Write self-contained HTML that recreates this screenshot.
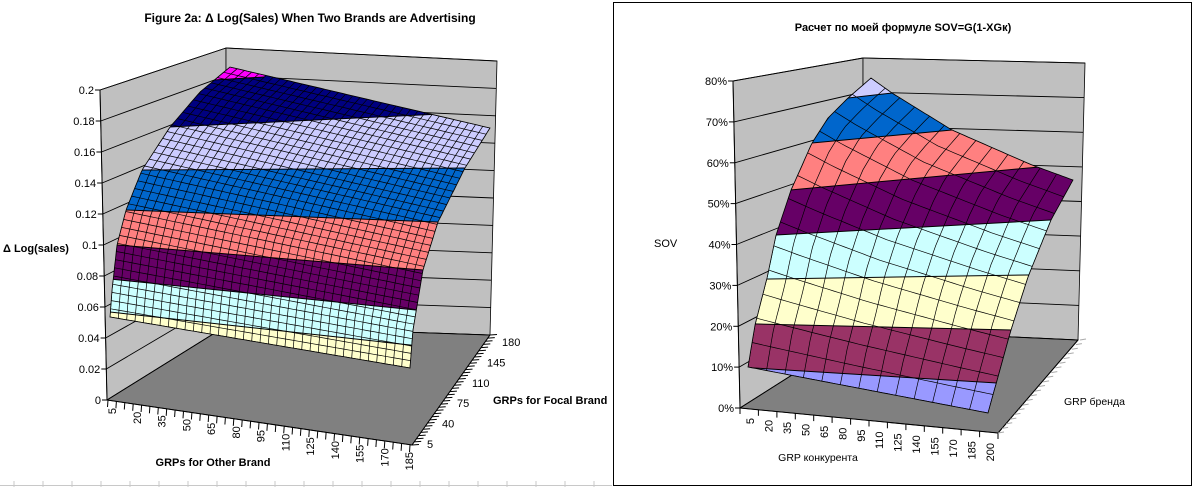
<!DOCTYPE html>
<html><head><meta charset="utf-8">
<style>
html,body{margin:0;padding:0;background:#fff;width:1194px;height:488px;overflow:hidden;}
svg{display:block;font-family:"Liberation Sans","DejaVu Sans",sans-serif;}
</style></head>
<body>
<svg id="s" width="1194" height="488" viewBox="0 0 1194 488" xmlns="http://www.w3.org/2000/svg">
<rect width="1194" height="488" fill="#fff"/>
<g id="g"></g>
<text x="310" y="22" font-size="12" font-weight="bold" text-anchor="middle">Figure 2a: Δ Log(Sales) When Two Brands are Advertising</text>
<text x="3" y="252" font-size="11" font-weight="bold">Δ Log(sales)</text>
<text x="213" y="466" font-size="11" font-weight="bold" text-anchor="middle">GRPs for Other Brand</text>
<text x="493" y="404" font-size="11" font-weight="bold">GRPs for Focal Brand</text>
<rect x="613.5" y="2.5" width="578" height="483" fill="none" stroke="#000" stroke-width="1"/>
<text x="903" y="31" font-size="11" font-weight="bold" text-anchor="middle">Расчет по моей формуле SOV=G(1-XGк)</text>
<text x="654" y="247" font-size="11">SOV</text>
<text x="818" y="461" font-size="10.5" text-anchor="middle">GRP конкурента</text>
<text x="1064" y="405" font-size="10.5">GRP бренда</text>
</svg>
<script>
var G=document.getElementById('g');
var out=[];
function poly(pts,fill,stroke,sw,extra){out.push('<polygon points="'+pts.map(function(p){return p[0].toFixed(1)+','+p[1].toFixed(1)}).join(' ')+'" fill="'+fill+'" stroke="'+(stroke||'none')+'" stroke-width="'+(sw||1)+'" '+(extra||'')+'/>');}
function line(a,b,st,sw,extra){out.push('<line x1="'+a[0].toFixed(1)+'" y1="'+a[1].toFixed(1)+'" x2="'+b[0].toFixed(1)+'" y2="'+b[1].toFixed(1)+'" stroke="'+(st||'#000')+'" stroke-width="'+(sw||1)+'" '+(extra||'')+'/>');}
function text(x,y,t,sz,anc,rot){out.push('<text x="'+x.toFixed(1)+'" y="'+y.toFixed(1)+'" font-size="'+sz+'" text-anchor="'+(anc||'start')+'"'+(rot?' transform="rotate(-90 '+x.toFixed(1)+' '+y.toFixed(1)+')"':'')+'>'+t+'</text>');}
function lerp(a,b,t){return [a[0]+(b[0]-a[0])*t,a[1]+(b[1]-a[1])*t];}
function pl(pts){
 var c=[0];for(var i=1;i<pts.length;i++){c.push(c[i-1]+Math.hypot(pts[i][0]-pts[i-1][0],pts[i][1]-pts[i-1][1]));}
 var L=c[c.length-1];
 return function(t){var d=t*L;for(var i=1;i<pts.length;i++){if(d<=c[i]||i==pts.length-1){var s=(d-c[i-1])/(c[i]-c[i-1]);return lerp(pts[i-1],pts[i],Math.max(0,Math.min(1,s)));}}};
}
function coons(F,B,Lf,R){
 var FL=F(0),FR=F(1),BL=B(0),BR=B(1);
 return function(u,v){var f=F(u),b=B(u),l=Lf(v),r=R(v);
  return [0,1].map(function(k){return (1-v)*f[k]+v*b[k]+(1-u)*l[k]+u*r[k]-((1-u)*(1-v)*FL[k]+u*(1-v)*FR[k]+(1-u)*v*BL[k]+u*v*BR[k]);});};
}
function surface(id,P,nu,nv,bounds,colors,extraFn,xr){
 var N=60,o=[];
 for(var i=0;i<=N;i++)o.push(P(i/N,0));
 for(var i=0;i<=N;i++)o.push(P(1,i/N));
 for(var i=N;i>=0;i--)o.push(P(i/N,1));
 for(var i=N;i>=0;i--)o.push(P(0,i/N));
 out.push('<clipPath id="'+id+'"><polygon points="'+o.map(function(p){return p[0].toFixed(1)+','+p[1].toFixed(1)}).join(' ')+'"/></clipPath>');
 out.push('<g clip-path="url(#'+id+')">');
 function yl(b,x){return b[0][1]+(b[1][1]-b[0][1])*(x-b[0][0])/(b[1][0]-b[0][0]);}
 function cl(y){return Math.max(0,Math.min(488,y));}
 var x0=xr[0],x1=xr[1];
 for(var k=0;k<colors.length;k++){
  var lo=k==0?null:bounds[k-1],hi=k<bounds.length?bounds[k]:null;
  var pts=[[x0,lo?cl(yl(lo,x0)):488],[x1,lo?cl(yl(lo,x1)):488],[x1,hi?cl(yl(hi,x1)):0],[x0,hi?cl(yl(hi,x0)):0]];
  poly(pts,colors[k]);
 }
 if(extraFn)extraFn();
 for(var i=0;i<=nu;i++){var s=[];for(var j=0;j<=40;j++)s.push(P(i/nu,j/40));out.push('<polyline points="'+s.map(function(p){return p[0].toFixed(1)+','+p[1].toFixed(1)}).join(' ')+'" fill="none" stroke="#000" stroke-width="0.7"/>');}
 for(var j=0;j<=nv;j++){var s=[];for(var i=0;i<=40;i++)s.push(P(i/40,j/nv));out.push('<polyline points="'+s.map(function(p){return p[0].toFixed(1)+','+p[1].toFixed(1)}).join(' ')+'" fill="none" stroke="#000" stroke-width="0.7"/>');}
 bounds.forEach(function(b){line([x0,yl(b,x0)],[x1,yl(b,x1)],'#000',1);});
 out.push('</g>');
 out.push('<polygon points="'+o.map(function(p){return p[0].toFixed(1)+','+p[1].toFixed(1)}).join(' ')+'" fill="none" stroke="#000" stroke-width="0.8"/>');
}

line([0,485.5],[612,485.5],'#c8c8c8',1);
for(var x=14;x<612;x+=29)line([x,481],[x,487],'#c8c8c8',1);

var lw=[[100,90],[226,48],[226,326],[107,400]];
var rw=[[226,48],[497,61],[490,335],[226,326]];
var fl=[[107,400],[412,445],[490,335],[226,326]];
poly(lw,'#c0c0c0','#000',0.8);poly(rw,'#c0c0c0','#000',0.8);poly(fl,'#808080','#000',0.8);
for(var i=0;i<=10;i++){var t=i/10;
 var a=lerp([100,90],[107,400],t),b=lerp([226,48],[226,326],t),c=lerp([497,61],[490,335],t);
 line(a,b,'#000',0.9);line(b,c,'#000',0.9);
 line([a[0]-5,a[1]],a,'#000',1);
 text(a[0]-6,a[1]+4,['0.2','0.18','0.16','0.14','0.12','0.1','0.08','0.06','0.04','0.02','0'][i],11,'end');
}
var PL=coons(pl([[110,317],[410,368]]),pl([[230,67],[490,128]]),
 pl([[110,317],[112,290],[117,245],[126,210],[142,170],[170,127],[200,92],[230,67]]),
 pl([[410,368],[413,330],[423,270],[438,222],[465,168],[490,128]]));
surface('c1',PL,36,35,
 [[[110,312],[410,345]],[[110,279],[415,310]],[[117,245],[423,270]],[[126,210],[438,222]],[[142,170],[465,168]],[[170,127],[419,115]]],
 ['#ffffcc','#ccffff','#660066','#ff8080','#0066cc','#ccccff','#000080'],
 function(){poly([[200,40],[280,40],[264,77],[214,80]],'#ff00ff');line([214,80],[264,77],'#000',1);},[100,500]);
line([100,90],[107,400],'#000',1);
line([107,400],[412,445],'#000',1);
for(var i=0;i<=36;i++){var p=lerp([108,400],[410,445],i/36);line(p,[p[0]-0.5,p[1]+7],'#000',1);}
for(var i=0;i<13;i++){var p=lerp([112,401],[409,445],i/12);text(p[0]+4,p[1]+7,String(5+15*i),11,'end',true);}
line([412,445],[490,335],'#000',1);
for(var i=0;i<=35;i++){var p=lerp([412,445],[490,335],i/35);line(p,[p[0]+7,p[1]-0.5],'#000',1);}
var fv=['5','40','75','110','145','180'];
for(var i=0;i<6;i++){var p=lerp([422,444],[497,342],i/5);text(p[0]+5,p[1]+4,fv[i],11,'start');}

var lw2=[[733,81],[863,58],[863,330],[740,408]];
var rw2=[[863,58],[1085,63],[1078,340],[863,330]];
var fl2=[[740,408],[998,433],[1078,340],[863,330]];
poly(lw2,'#c0c0c0','#000',0.8);poly(rw2,'#c0c0c0','#000',0.8);poly(fl2,'#808080','#000',0.8);
var pct=['80%','70%','60%','50%','40%','30%','20%','10%','0%'];
for(var i=0;i<=8;i++){var t=i/8;
 var a=lerp([733,81],[740,408],t),b=lerp([863,58],[863,330],t),c=lerp([1085,63],[1078,340],t);
 line(a,b,'#000',0.9);line(b,c,'#000',0.9);
 line([a[0]-5,a[1]],a,'#000',1);
 text(a[0]-6,a[1]+4,pct[i],11,'end');
}
var PR=coons(pl([[748,367],[988,413]]),pl([[871,78],[892,93],[952,130],[1032,165],[1073,180]]),
 pl([[748,367],[755,325],[767,278],[776,235],[791,190],[812,143],[828,118],[848,98],[871,78]]),
 pl([[988,413],[1011,330],[1028,277],[1051,220],[1073,180]]));
surface('c2',PR,13,13,
 [[[755,368],[996,383]],[[755,324],[1011,330]],[[767,279],[1028,275]],[[776,235],[1051,220]],[[791,190],[1039,167]],[[812,143],[952,130]],[[848,98],[892,93]]],
 ['#9999ff','#993366','#ffffcc','#ccffff','#660066','#ff8080','#0066cc','#ccccff'],null,[740,1080]);
line([733,81],[740,408],'#000',1);
line([740,408],[998,433],'#000',1);
for(var i=0;i<=14;i++){var p=lerp([740,408],[998,433],i/14);line(p,[p[0],p[1]+6],'#000',1);}
for(var i=0;i<14;i++){var p=lerp([750,413],[990,438],i/13);text(p[0]+4,p[1]+5,String(5+15*i),11,'end',true);}
line([998,433],[1078,340],'#000',1);
for(var i=0;i<=20;i++){var p=lerp([998,433],[1080,340],i/20);line(p,[p[0]+6,p[1]-1],'#aaa',1);}

G.innerHTML=out.join('');
</script>
</body></html>
